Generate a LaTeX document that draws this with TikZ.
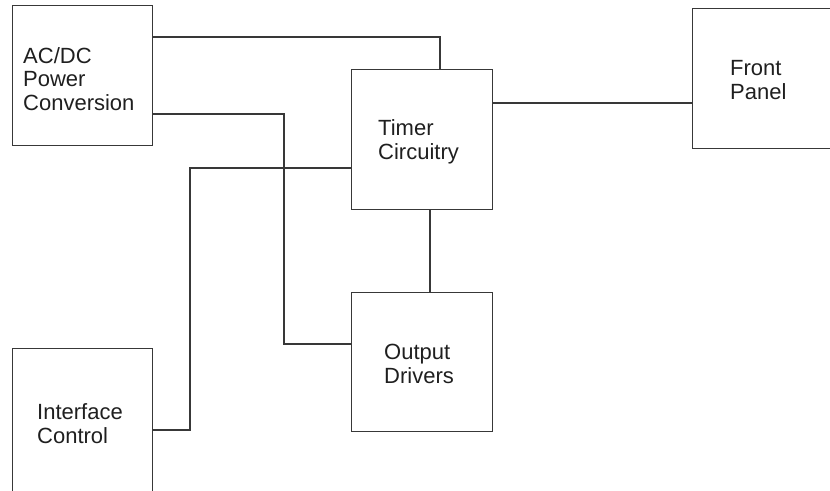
\documentclass[tikz,border=0pt]{standalone}
\usepackage{fontspec}
\setmainfont{Liberation Sans}
\usetikzlibrary{calc}
\begin{document}
\begin{tikzpicture}[x=1pt,y=-1pt,
  box/.style={draw=black!78,line width=1.2pt,minimum width=140pt,minimum height=140pt,inner sep=0pt,anchor=north west},
  lbl/.style={anchor=base west,inner sep=0pt,align=left,text=black!88,font=\fontsize{22}{23.5}\selectfont},
  wire/.style={draw=black!78,line width=1.2pt}]
\useasboundingbox (0,0) rectangle (830,490);
\clip (0,0) rectangle (830,490);
\node[box] (acdc) at (12,5) {};
\node[box,minimum width=141pt] (timer) at (351,69) {};
\node[box,minimum width=150pt] (front) at (692,8) {};
\node[box,minimum width=141pt,minimum height=139pt] (output) at (351,292) {};
\node[box,minimum height=160pt] (iface) at (12,348) {};
\node[lbl] (acdctext) at (23,110) {AC/DC\\Power\\Conversion};
\node[lbl] (timertext) at (378,159) {Timer\\Circuitry};
\node[lbl] (fronttext) at (730,99) {Front\\Panel};
\node[lbl] (outputtext) at (384,383) {Output\\Drivers};
\node[lbl] (ifacetext) at (37,443) {Interface\\Control};
\draw[wire] ($(acdc.north east)+(0,32)$) -| ($(timer.north west)+(89,0)$);
\draw[wire] ($(acdc.north east)+(0,109)$) -| ($(output.north west)+(-67,52)$) -- ($(output.north west)+(0,52)$);
\draw[wire] ($(iface.north east)+(0,82)$) -| ($(timer.north west)+(-161,99)$) -- ($(timer.north west)+(0,99)$);
\draw[wire] ($(timer.north east)+(0,34)$) -- ($(front.north west)+(0,95)$);
\draw[wire] ($(timer.south west)+(79,0)$) -- ($(output.north west)+(79,0)$);
\end{tikzpicture}
\end{document}
